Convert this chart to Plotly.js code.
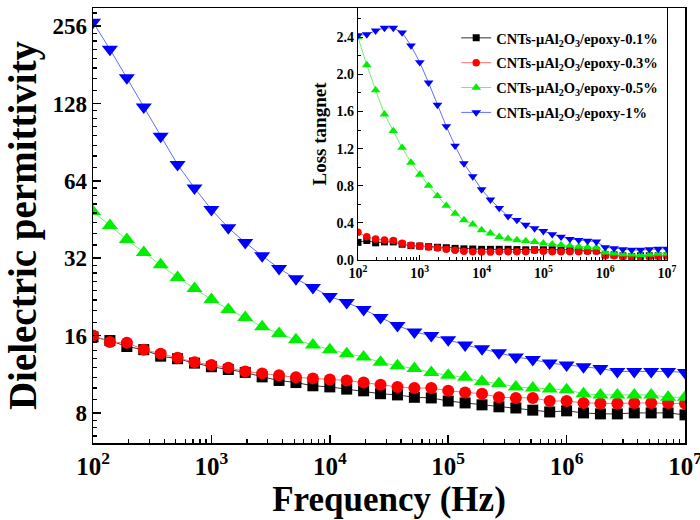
<!DOCTYPE html>
<html>
<head>
<meta charset="utf-8">
<script src="https://cdn.plot.ly/plotly-3.0.1.min.js"></script>
<style>html,body{margin:0;padding:0;background:#fff;}#chart{width:700px;height:520px;}</style>
</head>
<body>
<div id="chart"></div>
<script>
// Frequencies (Hz), 7 points per decade from 10^2 to 10^7
const freq = [100, 138.9, 193.1, 268.3, 372.8, 517.9, 719.7,
  1000, 1389, 1931, 2683, 3728, 5179, 7197,
  10000, 13895, 19307, 26827, 37276, 51795, 71969,
  100000, 138950, 193070, 268270, 372760, 517950, 719690,
  1000000, 1389500, 1930700, 2682700, 3727600, 5179500, 7196900,
  10000000];

const seriesNames = [
  'CNTs-μAl<sub>2</sub>O<sub>3</sub>/epoxy-0.1%',
  'CNTs-μAl<sub>2</sub>O<sub>3</sub>/epoxy-0.3%',
  'CNTs-μAl<sub>2</sub>O<sub>3</sub>/epoxy-0.5%',
  'CNTs-μAl<sub>2</sub>O<sub>3</sub>/epoxy-1%'
];

// Dielectric permittivity (main plot)
const perm01 = [15.8, 15.3, 14.5, 14.1, 13.3, 13.0, 12.5, 12.1, 11.8, 11.5, 11.05, 10.7, 10.5, 10.2, 10.1, 9.9,
  9.75, 9.5, 9.4, 9.2, 9.15, 8.9, 8.75, 8.6, 8.45, 8.36, 8.2, 8.07, 8.15, 8.0, 7.93, 7.93, 8.0, 8.0, 8.0, 7.86];
const perm03 = [16.0, 15.1, 15.0, 14.1, 13.6, 13.1, 12.6, 12.3, 12.0, 11.6, 11.4, 11.2, 11.0, 10.9, 10.8, 10.7,
  10.5, 10.3, 10.1, 10.0, 10.0, 9.75, 9.6, 9.5, 9.2, 9.15, 9.15, 8.9, 8.9, 8.75, 8.7, 8.7, 8.75, 8.75, 8.75, 8.7];
const perm05 = [48.6, 42.9, 37.8, 33.7, 30.2, 26.9, 24.4, 22.1, 20.2, 18.8, 17.3, 16.3, 15.4, 14.7, 14.1, 13.6,
  13.2, 12.6, 12.2, 11.9, 11.5, 11.2, 11.0, 10.6, 10.4, 10.1, 10.0, 9.9, 9.85, 9.5, 9.4, 9.4, 9.4, 9.4, 9.2, 9.2];
const perm1 = [265, 208, 161, 124, 95.5, 74, 60, 49.5, 42, 36.8, 32.7, 29.2, 26.6, 24.6, 22.7, 21.5,
  20.2, 18.8, 17.5, 16.5, 16.0, 15.4, 14.7, 14.2, 13.7, 13.2, 12.9, 12.5, 12.3, 12.1, 11.9, 11.6, 11.6, 11.6, 11.6, 11.5];

// Loss tangent (inset)
const loss01 = [0.19, 0.21, 0.185, 0.195, 0.195, 0.17, 0.155, 0.15, 0.143, 0.137, 0.132, 0.125, 0.12, 0.118, 0.115, 0.115,
  0.115, 0.115, 0.112, 0.11, 0.11, 0.11, 0.11, 0.11, 0.11, 0.105, 0.10, 0.10, 0.055, 0.055, 0.045, 0.036, 0.045, 0.045, 0.045, 0.045];
const loss03 = [0.30, 0.25, 0.225, 0.215, 0.21, 0.18, 0.16, 0.15, 0.14, 0.13, 0.117, 0.105, 0.095, 0.09, 0.087, 0.085,
  0.09, 0.09, 0.09, 0.09, 0.105, 0.095, 0.09, 0.09, 0.09, 0.09, 0.095, 0.095, 0.047, 0.045, 0.036, 0.028, 0.028, 0.036, 0.04, 0.047];
const loss05 = [2.40, 2.10, 1.83, 1.57, 1.39, 1.21, 1.05, 0.92, 0.80, 0.69, 0.585, 0.50, 0.43, 0.385, 0.323, 0.287,
  0.25, 0.23, 0.215, 0.205, 0.195, 0.18, 0.17, 0.162, 0.154, 0.145, 0.138, 0.135, 0.083, 0.072, 0.062, 0.06, 0.055, 0.06, 0.07, 0.07];
const loss1 = [2.42, 2.43, 2.47, 2.50, 2.50, 2.45, 2.31, 2.13, 1.91, 1.67, 1.44, 1.23, 1.04, 0.90, 0.76, 0.65,
  0.56, 0.47, 0.43, 0.377, 0.34, 0.31, 0.277, 0.25, 0.226, 0.215, 0.205, 0.197, 0.137, 0.126, 0.115, 0.108, 0.108, 0.115, 0.119, 0.119];

// Axis ticks
const xTickVals = [1e2, 1e3, 1e4, 1e5, 1e6, 1e7];
const xTickText = ['10<sup>2</sup>', '10<sup>3</sup>', '10<sup>4</sup>', '10<sup>5</sup>', '10<sup>6</sup>', '10<sup>7</sup>'];
const xMinorVals = [];
[1e2, 1e3, 1e4, 1e5, 1e6].forEach(d => { for (let m = 2; m <= 9; m++) xMinorVals.push(m * d); });
const yTickVals = [8, 16, 32, 64, 128, 256];
const yMinorVals = [6.5, 7, 7.5, 9, 10, 11, 12, 13, 14, 15, 18, 20, 22, 24, 26, 28, 30, 36, 40, 44, 48, 52, 56, 60,
  72, 80, 88, 96, 104, 112, 120, 144, 160, 176, 192, 208, 224, 240, 288];

const markerColors = ['#000000', '#ff0000', '#00ee00', '#0000ff'];
const lineColors = ['#333333', '#ff7070', '#70f070', '#6070ff'];
const symbols = ['square', 'circle', 'triangle-up', 'triangle-down'];
const mainSizes = [11, 12, 14, 14];
const insetSizes = [7, 7.5, 8.5, 8.5];
const permSeries = [perm01, perm03, perm05, perm1];
const lossSeries = [loss01, loss03, loss05, loss1];

const FONT = 'Liberation Serif, Times New Roman, serif';
const traces = [];
permSeries.forEach((s, i) => {
  traces.push({
    x: freq, y: s, type: 'scatter', mode: 'lines+markers', xaxis: 'x', yaxis: 'y',
    showlegend: false,
    line: {color: lineColors[i], width: 1},
    marker: {symbol: symbols[i], size: mainSizes[i], color: markerColors[i]}
  });
});
lossSeries.forEach((s, i) => {
  traces.push({
    x: freq, y: s, type: 'scatter', mode: 'lines+markers', xaxis: 'x2', yaxis: 'y2',
    name: seriesNames[i], showlegend: true, legendgroup: 'g' + i,
    line: {color: lineColors[i], width: 1},
    marker: {symbol: symbols[i], size: insetSizes[i], color: markerColors[i]}
  });
});

const axisLine = {showline: true, linecolor: '#000', linewidth: 1.5, mirror: true, showgrid: false, zeroline: false};

const layout = {
  width: 700, height: 520,
  margin: {l: 93, r: 15, t: 8, b: 77},
  paper_bgcolor: '#fff', plot_bgcolor: 'rgba(0,0,0,0)',
  font: {family: FONT, color: '#000', weight: 'bold'},
  xaxis: Object.assign({}, axisLine, {
    type: 'log', range: [2, 7], domain: [0, 1], anchor: 'y',
    tickmode: 'array', tickvals: xTickVals, ticktext: xTickText, ticklabeloverflow: 'allow',
    ticks: 'inside', ticklen: 8, tickwidth: 1.5, tickcolor: '#000',
    tickfont: {family: FONT, size: 25, weight: 'bold'},
    minor: {tickmode: 'array', tickvals: xMinorVals, ticks: 'inside', ticklen: 4, tickwidth: 1.2, tickcolor: '#000'},
    title: {text: 'Frequency (Hz)', font: {family: FONT, size: 35, weight: 'bold'}, standoff: 4}
  }),
  yaxis: Object.assign({}, axisLine, {
    type: 'log', range: [0.786, 2.4786], domain: [0, 1], anchor: 'x',
    tickmode: 'array', tickvals: yTickVals, ticktext: yTickVals.map(String),
    ticks: 'inside', ticklen: 8, tickwidth: 1.5, tickcolor: '#000',
    tickfont: {family: FONT, size: 23, weight: 'bold'},
    minor: {tickmode: 'array', tickvals: yMinorVals, ticks: 'inside', ticklen: 4, tickwidth: 1.2, tickcolor: '#000'},
    title: {text: 'Dielectric permittivity', font: {family: FONT, size: 39, weight: 'bold'}, standoff: 4}
  }),
  xaxis2: Object.assign({}, axisLine, {
    type: 'log', range: [2, 7], domain: [0.4476, 0.9696], anchor: 'y2',
    tickmode: 'array', tickvals: xTickVals, ticktext: xTickText, ticklabeloverflow: 'allow',
    ticks: 'inside', ticklen: 5, tickwidth: 1.2, tickcolor: '#000', linewidth: 1.2,
    tickfont: {family: FONT, size: 14, weight: 'bold'},
    minor: {tickmode: 'array', tickvals: xMinorVals, ticks: 'inside', ticklen: 3, tickwidth: 1, tickcolor: '#000'}
  }),
  yaxis2: Object.assign({}, axisLine, {
    type: 'linear', range: [0, 2.715], domain: [0.4207, 1], anchor: 'x2',
    tickmode: 'linear', tick0: 0, dtick: 0.4, tickformat: '.1f',
    ticks: 'inside', ticklen: 5, tickwidth: 1.2, tickcolor: '#000', linewidth: 1.2,
    tickfont: {family: FONT, size: 14, weight: 'bold'},
    minor: {tickmode: 'linear', tick0: 0, dtick: 0.2, ticks: 'inside', ticklen: 3, tickwidth: 1, tickcolor: '#000'},
    title: {text: 'Loss tangnet', font: {family: FONT, size: 19, weight: 'bold'}, standoff: 4}
  }),
  legend: {
    x: 0.6135, y: 0.968, xanchor: 'left', yanchor: 'top',
    bgcolor: 'rgba(0,0,0,0)', borderwidth: 0,
    font: {family: FONT, size: 14.5, weight: 'bold', color: '#000'},
    itemwidth: 30, tracegroupgap: 3
  }
};

Plotly.newPlot('chart', traces, layout, {displayModeBar: false, staticPlot: true});
</script>
</body>
</html>
